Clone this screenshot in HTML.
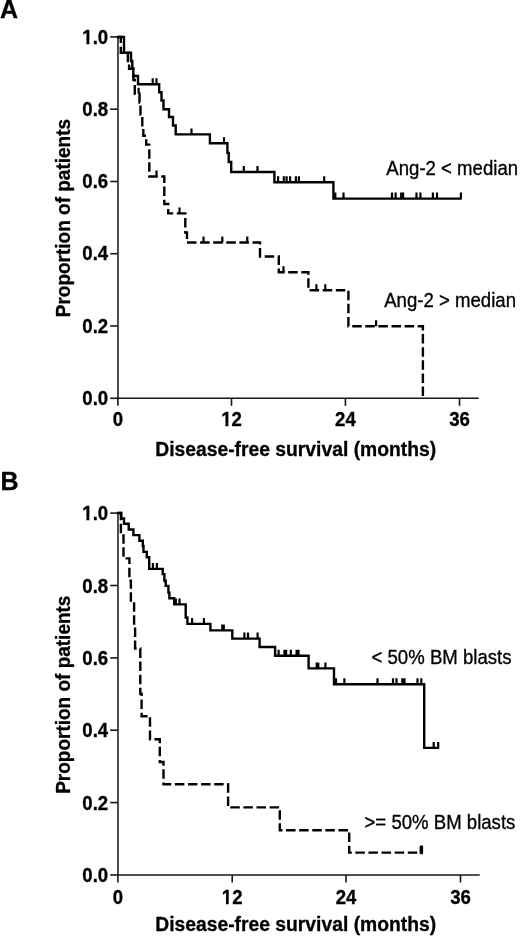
<!DOCTYPE html>
<html><head><meta charset="utf-8"><style>
html,body{margin:0;padding:0;background:#fff;overflow:hidden;}
svg{display:block;}
.axv{fill:none;stroke:#444;stroke-width:1.9;}
.axh{fill:none;stroke:#161616;stroke-width:1.6;}
.s{fill:none;stroke:#000;stroke-width:2.4;stroke-linejoin:miter;stroke-linecap:square;}
.d{fill:none;stroke:#000;stroke-width:2.4;stroke-dasharray:9.5 3.6;stroke-linecap:butt;}
.c{fill:none;stroke:#000;stroke-width:2.2;}
text{font-family:"Liberation Sans",Arial,sans-serif;fill:#000;stroke:#000;stroke-width:0.3px;}
.tk{font-size:18.6px;font-weight:bold;}
.tt{font-size:19.3px;font-weight:bold;}
.lb{font-size:18.6px;}
.ty{font-size:19.0px;font-weight:bold;}
.pl{font-size:25px;font-weight:bold;}
</style></head><body>
<svg width="520" height="937" viewBox="0 0 520 937">
<text class="pl" x="-0.1" y="18.0">A</text>
<text class="pl" x="0.55" y="490.3">B</text>
<path class="axv" d="M117.95 36.0 V399.1"/>
<path class="axh" d="M117 398.3 H478.8"/>
<path class="axh" d="M110.2 398.3 H117.5"/>
<path class="axh" d="M110.2 326.0 H117.5"/>
<path class="axh" d="M110.2 253.7 H117.5"/>
<path class="axh" d="M110.2 181.5 H117.5"/>
<path class="axh" d="M110.2 109.2 H117.5"/>
<path class="axh" d="M110.2 36.9 H117.5"/>
<path class="axh" d="M117.9 398.3 V405.8"/>
<path class="axh" d="M231.5 398.3 V405.8"/>
<path class="axh" d="M345.4 398.3 V405.8"/>
<path class="axh" d="M459.5 398.3 V405.8"/>
<text class="tk" transform="translate(108.20 405.00) scale(1 1.05)" text-anchor="end">0.0</text>
<text class="tk" transform="translate(108.20 332.72) scale(1 1.05)" text-anchor="end">0.2</text>
<text class="tk" transform="translate(108.20 260.44) scale(1 1.05)" text-anchor="end">0.4</text>
<text class="tk" transform="translate(108.20 188.16) scale(1 1.05)" text-anchor="end">0.6</text>
<text class="tk" transform="translate(108.20 115.88) scale(1 1.05)" text-anchor="end">0.8</text>
<text class="tk" transform="translate(108.20 43.60) scale(1 1.05)" text-anchor="end">1.0</text>
<text class="tk" transform="translate(117.90 425.90) scale(1 1.05)" text-anchor="middle">0</text>
<text class="tk" transform="translate(231.50 425.90) scale(1 1.05)" text-anchor="middle">12</text>
<text class="tk" transform="translate(345.40 425.90) scale(1 1.05)" text-anchor="middle">24</text>
<text class="tk" transform="translate(459.50 425.90) scale(1 1.05)" text-anchor="middle">36</text>
<text class="tt" transform="translate(295.70 455.60) scale(1 1.06)" text-anchor="middle">Disease-free survival (months)</text>
<text class="ty" transform="translate(69.80 218.10) rotate(-90) scale(1 1.07)" text-anchor="middle">Proportion of patients</text>
<path class="axv" d="M117.95 512.2 V875.8"/>
<path class="axh" d="M117 875.0 H479.7"/>
<path class="axh" d="M110.2 875.0 H117.5"/>
<path class="axh" d="M110.2 802.6 H117.5"/>
<path class="axh" d="M110.2 730.2 H117.5"/>
<path class="axh" d="M110.2 657.9 H117.5"/>
<path class="axh" d="M110.2 585.5 H117.5"/>
<path class="axh" d="M110.2 513.1 H117.5"/>
<path class="axh" d="M117.9 875.0 V882.5"/>
<path class="axh" d="M232.2 875.0 V882.5"/>
<path class="axh" d="M346.0 875.0 V882.5"/>
<path class="axh" d="M460.5 875.0 V882.5"/>
<text class="tk" transform="translate(108.20 882.05) scale(1 1.05)" text-anchor="end">0.0</text>
<text class="tk" transform="translate(108.20 809.67) scale(1 1.05)" text-anchor="end">0.2</text>
<text class="tk" transform="translate(108.20 737.29) scale(1 1.05)" text-anchor="end">0.4</text>
<text class="tk" transform="translate(108.20 664.91) scale(1 1.05)" text-anchor="end">0.6</text>
<text class="tk" transform="translate(108.20 592.53) scale(1 1.05)" text-anchor="end">0.8</text>
<text class="tk" transform="translate(108.20 520.15) scale(1 1.05)" text-anchor="end">1.0</text>
<text class="tk" transform="translate(117.90 903.60) scale(1 1.05)" text-anchor="middle">0</text>
<text class="tk" transform="translate(232.20 903.60) scale(1 1.05)" text-anchor="middle">12</text>
<text class="tk" transform="translate(346.00 903.60) scale(1 1.05)" text-anchor="middle">24</text>
<text class="tk" transform="translate(460.50 903.60) scale(1 1.05)" text-anchor="middle">36</text>
<text class="tt" transform="translate(295.70 931.20) scale(1 1.06)" text-anchor="middle">Disease-free survival (months)</text>
<text class="ty" transform="translate(69.80 694.70) rotate(-90) scale(1 1.07)" text-anchor="middle">Proportion of patients</text>
<path class="s" d="M118 37 H124 V52.8 H131 V61 H132.3 V68.5 H133.3 V76 H138 V84.2 H159.2 V92.3 H161.5 V100.5 H163.5 V109.2 H169 V117 H173 V125.5 H175.7 V134.4 H209.9 V143.3 H227.4 V152.9 H228.7 V162 H231.2 V172 H274.4 V182.3 H333.4 V198.6 H460.5"/>
<path class="d" stroke-dashoffset="0.59" d="M118 37 H120.8 V52.8 H127.9 V62.5 H129.1 V68.8 H133.4 V80 H134.8 V93.8 H139.5 V102.5 H140.5 V114.5 H142.3 V128 H143.3 V135.8 H146.2 V144.6 H149.3 V176.5 H164.3 V204 H168.2 V213.4 H185.3 V232.5 H187 V242.5 H260 V256.5 H278.8 V272.3 H308.4 V290.2 H348.4 V326.2 H422.9 V398.3"/>
<path class="c" d="M152.7 84.2 V78.2M156.5 84.2 V78.2M191.5 134.4 V128.4M224 143.3 V137.3M243.8 172 V166.0M257.5 172 V166.0M278.1 182.3 V176.3M283.8 182.3 V176.3M286.6 182.3 V176.3M290.1 182.3 V176.3M295.9 182.3 V176.3M298.9 182.3 V176.3M324.2 182.3 V176.3M335.3 198.6 V192.6M343.5 198.6 V192.6M392.0 198.6 V192.6M395.6 198.6 V192.6M401.2 198.6 V192.6M403.1 198.6 V192.6M416.5 198.6 V192.6M420.4 198.6 V192.6M432.9 198.6 V192.6M437.0 198.6 V192.6M460.9 198.6 V192.6M138.6 93.8 V87.8M156.5 176.5 V170.5M179.5 213.4 V207.4M203.5 242.5 V236.5M222.3 242.5 V236.5M247.3 242.5 V236.5M283.5 272.3 V266.3M316.4 290.2 V284.2M325.3 290.2 V284.2M376.1 326.2 V320.2"/>
<text class="lb" transform="translate(386.30 175.40) scale(1 1.06)">Ang-2 &lt; median</text>
<text class="lb" transform="translate(384.20 306.70) scale(1 1.06)">Ang-2 &gt; median</text>
<path class="s" d="M118 513 H121.3 V518.5 H124 V523.8 H128.7 V529.5 H133.4 V535.1 H139.4 V540.8 H142.8 V546 H143.5 V551.9 H146.8 V557.3 H149.2 V568.9 H162.7 V574.1 H164.4 V580.8 H165.7 V585.9 H168.4 V592.6 H169.4 V598.3 H174.2 V604.4 H185.7 V617.5 H187.4 V623.9 H210.4 V630.4 H232.3 V638.6 H259.6 V647 H275.1 V655.7 H308.6 V668.4 H334 V684.2 H424.2 V747.9 H437.9"/>
<path class="d" stroke-dashoffset="12.53" d="M118 513 H120.9 V535.5 H123.5 V558.4 H129.4 V580.7 H130.9 V603.5 H134.1 V626 H135.1 V648.5 H140.3 V693.8 H141.6 V716.2 H150 V739.2 H159.8 V762 H163.5 V784.2 H228.1 V807.4 H279.8 V830.2 H349.2 V852.6 H421.8"/>
<path class="c" d="M152.9 568.9 V562.9M156.9 568.9 V562.9M175.8 604.4 V598.4M179.5 604.4 V598.4M192.1 623.9 V617.9M203.9 623.9 V617.9M222.3 630.4 V624.4M223.8 630.4 V624.4M244.4 638.6 V632.6M248.0 638.6 V632.6M257.6 638.6 V632.6M278.6 655.7 V649.7M284.5 655.7 V649.7M286.1 655.7 V649.7M290.8 655.7 V649.7M296.6 655.7 V649.7M298.5 655.7 V649.7M316.7 668.4 V662.4M318.3 668.4 V662.4M325.4 668.4 V662.4M336.0 684.2 V678.2M344.4 684.2 V678.2M377.5 684.2 V678.2M393.0 684.2 V678.2M396.5 684.2 V678.2M402.3 684.2 V678.2M404.5 684.2 V678.2M417.5 684.2 V678.2M421.3 684.2 V678.2M433.7 747.9 V741.9M438.2 747.9 V741.9"/>
<rect x="419.6" y="845.6" width="3.5" height="8.6" rx="1.2" fill="#000"/>
<text class="lb" transform="translate(371.50 663.90) scale(1 1.06)">&lt; 50% BM blasts</text>
<text class="lb" transform="translate(364.50 828.60) scale(1 1.06)">&gt;= 50% BM blasts</text>
<g fill="#fff">
<rect x="82.40" y="41" width="4.02" height="4"/><rect x="89.38" y="41" width="3.52" height="4"/>
<rect x="82.40" y="517" width="4.02" height="4"/><rect x="89.38" y="517" width="3.52" height="4"/>
<rect x="221.40" y="423" width="4.02" height="4"/><rect x="228.38" y="423" width="3.57" height="4"/>
<rect x="221.80" y="901" width="4.14" height="4"/><rect x="228.74" y="901" width="3.56" height="4"/>
</g>

</svg>
</body></html>
